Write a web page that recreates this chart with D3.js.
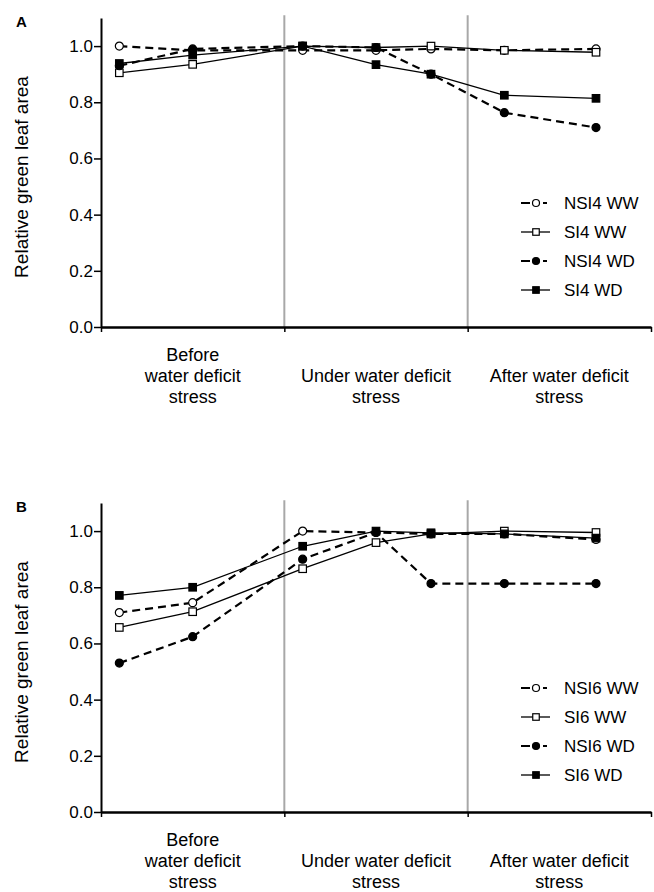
<!DOCTYPE html>
<html>
<head>
<meta charset="utf-8">
<script src="https://cdn.jsdelivr.net/npm/d3@7"></script>
<style>
  body { margin: 0; background: #fff; }
  text { font-family: "Liberation Sans", Arial, sans-serif; fill: #000; }
</style>
</head>
<body>
<div id="chart"></div>
<script>
// sampling days (x scale runs 0..30, phases split at 10 and 20)
var days = [1, 5, 11, 15, 18, 22, 27];
var phaseBounds = [0, 10, 20, 30];
var phaseLabels = [
    ["Before", "water deficit", "stress"],
    ["Under water deficit", "stress"],
    ["After water deficit", "stress"]
];
var yTicks = [0, 0.2, 0.4, 0.6, 0.8, 1.0];

// panel A
var namesA = ["NSI4 WW", "SI4 WW", "NSI4 WD", "SI4 WD"];
var nsi4WW = [1.00, 0.985, 0.985, 0.985, 0.99, 0.985, 0.99];
var si4WW  = [0.905, 0.935, 1.00, 0.995, 1.00, 0.985, 0.978];
var nsi4WD = [0.93, 0.99, 1.00, 0.995, 0.90, 0.763, 0.71];
var si4WD  = [0.938, 0.968, 1.00, 0.934, 0.90, 0.825, 0.814];

// panel B
var namesB = ["NSI6 WW", "SI6 WW", "NSI6 WD", "SI6 WD"];
var nsi6WW = [0.71, 0.745, 1.00, 0.995, 0.99, 0.99, 0.97];
var si6WW  = [0.657, 0.713, 0.866, 0.959, 0.99, 1.00, 0.995];
var nsi6WD = [0.53, 0.624, 0.90, 0.995, 0.813, 0.813, 0.813];
var si6WD  = [0.771, 0.80, 0.946, 1.00, 0.994, 0.99, 0.975];

// marker / line style per series slot (same order in both panels)
var styles = [
    { shape: "circle", fill: "#fff", dashed: true },
    { shape: "square", fill: "#fff", dashed: false },
    { shape: "circle", fill: "#000", dashed: true },
    { shape: "square", fill: "#000", dashed: false }
];

var width = 654;
var height = 892;
var left = 101;
var right = 651;
var plotH = 309;   // 0 .. 1.1

var svg = d3.select("#chart")
    .append("svg")
    .attr("width", width)
    .attr("height", height);

var x = d3.scaleLinear().domain([0, 30]).range([left, right]);

function drawMarker(sel, st, size) {
    if (st.shape == "circle") {
        sel.append("circle")
            .attr("r", size / 2)
            .attr("fill", st.fill)
            .attr("stroke", "#000")
            .attr("stroke-width", 1.2);
    } else {
        sel.append("rect")
            .attr("x", -size / 2).attr("y", -size / 2)
            .attr("width", size).attr("height", size)
            .attr("fill", st.fill)
            .attr("stroke", "#000")
            .attr("stroke-width", 1.2);
    }
}

function drawPanel(zeroY, letter, names, seriesVals) {
    var g = svg.append("g");
    var y = d3.scaleLinear().domain([0, 1.1]).range([zeroY, zeroY - plotH]);

    // grey phase separators
    g.selectAll(".sep")
        .data(phaseBounds.slice(1, 3))
        .enter().append("line")
        .attr("x1", function (d) { return x(d); })
        .attr("x2", function (d) { return x(d); })
        .attr("y1", y(1.11))
        .attr("y2", y(0))
        .attr("stroke", "#a8a8a8")
        .attr("stroke-width", 2);

    // y axis
    var yAxis = g.append("g")
        .attr("transform", "translate(" + left + ",0)")
        .call(d3.axisLeft(y).tickValues(yTicks).tickFormat(d3.format(".1f")).tickSize(7).tickSizeOuter(0).tickPadding(1));
    yAxis.select(".domain").attr("stroke-width", 2);
    yAxis.selectAll(".tick line").attr("stroke-width", 1.5);
    yAxis.selectAll("text").style("font-size", "17px").style("font-family", "'Liberation Sans', Arial, sans-serif");

    // x axis (ticks only at phase boundaries)
    var xAxis = g.append("g")
        .attr("transform", "translate(0," + zeroY + ")")
        .call(d3.axisBottom(x).tickValues(phaseBounds).tickFormat("").tickSize(5).tickSizeOuter(0));
    xAxis.select(".domain").attr("stroke-width", 2.5);
    xAxis.selectAll(".tick line").attr("stroke-width", 1.5);

    // phase labels
    phaseLabels.forEach(function (lines, i) {
        var cx = x((phaseBounds[i] + phaseBounds[i + 1]) / 2);
        var t = g.append("text").attr("text-anchor", "middle").style("font-size", "18px");
        lines.forEach(function (ln, j) {
            t.append("tspan")
                .attr("x", cx)
                .attr("y", zeroY + 76 - (lines.length - 1 - j) * 21)
                .text(ln);
        });
    });

    // y title
    g.append("text")
        .attr("transform", "translate(28," + (zeroY - 150) + ")rotate(-90)")
        .attr("text-anchor", "middle")
        .style("font-size", "19px")
        .text("Relative green leaf area");

    // panel letter
    g.append("text")
        .attr("x", 16)
        .attr("y", zeroY - 300)
        .style("font-size", "15px")
        .style("font-weight", "bold")
        .text(letter);

    var line = d3.line()
        .x(function (d) { return x(d.day); })
        .y(function (d) { return y(d.v); });

    seriesVals.forEach(function (vals, k) {
        var st = styles[k];
        var pts = vals.map(function (v, i) { return { day: days[i], v: v }; });
        g.append("path")
            .datum(pts)
            .attr("d", line)
            .attr("fill", "none")
            .attr("stroke", "#000")
            .attr("stroke-width", st.dashed ? 2.2 : 1.3)
            .attr("stroke-dasharray", st.dashed ? "8,5" : null);
        var m = g.selectAll(".m" + k)
            .data(pts)
            .enter().append("g")
            .attr("class", "m" + k)
            .attr("transform", function (d) { return "translate(" + x(d.day) + "," + y(d.v) + ")"; });
        drawMarker(m, st, st.shape == "circle" ? 8 : 7.5);
    });

    // legend
    var offs = [124, 95, 66, 37];
    names.forEach(function (nm, k) {
        var st = styles[k];
        var ly = zeroY - offs[k];
        var lg = g.append("g");
        lg.append("line")
            .attr("x1", 521).attr("x2", 550)
            .attr("y1", ly).attr("y2", ly)
            .attr("stroke", "#000")
            .attr("stroke-width", st.dashed ? 2.2 : 1.3)
            .attr("stroke-dasharray", st.dashed ? "9,13,4,10" : null);
        var mk = lg.append("g").attr("transform", "translate(536," + ly + ")");
        drawMarker(mk, st, st.shape == "circle" ? 7 : 6.5);
        lg.append("text")
            .attr("x", 564)
            .attr("y", ly + 6)
            .style("font-size", "17px")
            .text(nm);
    });
}

drawPanel(327, "A", namesA, [nsi4WW, si4WW, nsi4WD, si4WD]);
drawPanel(812, "B", namesB, [nsi6WW, si6WW, nsi6WD, si6WD]);
</script>
</body>
</html>
